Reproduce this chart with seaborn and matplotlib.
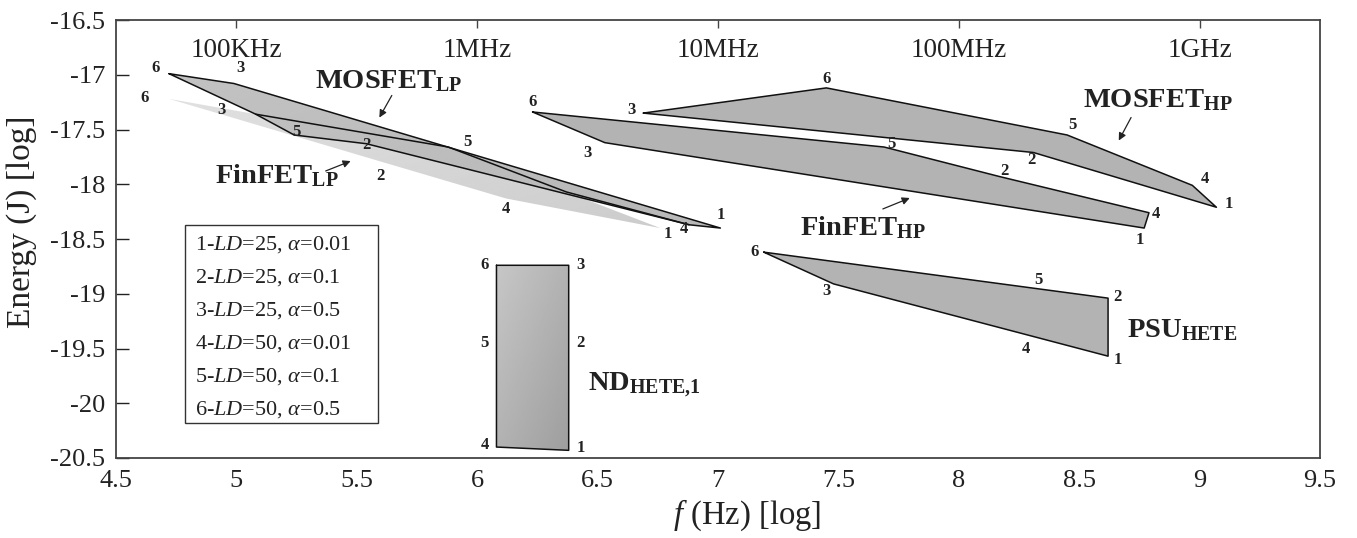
import numpy as np
import pandas as pd
import matplotlib
matplotlib.use("Agg")
import matplotlib.pyplot as plt
import seaborn as sns
from matplotlib.patches import Polygon, Rectangle

# polygon vertices: x = log10(f), y = log10(E)
mosfet_lp_x = [4.72, 4.99, 7.01, 6.88, 5.54, 5.24, 5.08]
mosfet_lp_y = [-16.99, -17.08, -18.40, -18.37, -17.63, -17.55, -17.36]
mosfet_lp_mid_x = [5.08, 5.88, 6.37, 6.88]
mosfet_lp_mid_y = [-17.36, -17.66, -18.07, -18.37]
finfet_lp_x = [4.72, 5.08, 5.24, 5.54, 6.37, 6.76, 6.12, 5.58]
finfet_lp_y = [-17.22, -17.36, -17.55, -17.63, -18.07, -18.40, -18.13, -17.78]
mosfet_hp_x = [6.69, 7.45, 8.45, 8.97, 9.07, 8.31]
mosfet_hp_y = [-17.35, -17.12, -17.55, -18.01, -18.21, -17.71]
finfet_hp_x = [6.23, 7.69, 8.17, 8.79, 8.77, 6.53]
finfet_hp_y = [-17.34, -17.66, -17.93, -18.26, -18.40, -17.62]
psu_x = [7.19, 8.62, 8.62, 7.48]
psu_y = [-18.62, -19.04, -19.57, -18.91]
nd_x = [6.08, 6.38, 6.38, 6.08]
nd_y = [-18.74, -18.74, -20.43, -20.40]

# vertex number labels
num_text = ["6", "3", "6", "3", "5", "2", "2", "5", "4", "1", "4", "1",
            "6", "3", "3", "6", "5", "5", "2", "2", "4", "1", "4", "1",
            "6", "3", "5", "2", "4", "1",
            "6", "3", "5", "2", "4", "1"]
num_x = [4.665, 5.015, 4.62, 4.94, 5.25, 5.54, 5.60, 5.96, 6.12, 7.01, 6.86, 6.79,
         6.23, 6.46, 6.64, 7.45, 7.72, 8.47, 8.30, 8.19, 9.02, 9.12, 8.82, 8.75,
         7.15, 7.45, 8.33, 8.66, 8.28, 8.66,
         6.03, 6.43, 6.03, 6.43, 6.03, 6.43]
num_y = [-16.94, -16.94, -17.215, -17.32, -17.52, -17.64, -17.925, -17.61, -18.23, -18.28, -18.41, -18.45,
         -17.25, -17.71, -17.32, -17.04, -17.63, -17.46, -17.78, -17.88, -17.95, -18.18, -18.27, -18.51,
         -18.62, -18.975, -18.87, -19.03, -19.50, -19.605,
         -18.74, -18.74, -19.45, -19.45, -20.38, -20.41]

legend_lines = [r"1-$LD$=25, $\alpha$=0.01", r"2-$LD$=25, $\alpha$=0.1",
                r"3-$LD$=25, $\alpha$=0.5", r"4-$LD$=50, $\alpha$=0.01",
                r"5-$LD$=50, $\alpha$=0.1", r"6-$LD$=50, $\alpha$=0.5"]

top_ticks = [5, 6, 7, 8, 9]
top_labels = ["100KHz", "1MHz", "10MHz", "100MHz", "1GHz"]

sns.set_theme(style="white")
plt.rcParams["font.family"] = ["Liberation Serif", "DejaVu Serif"]
plt.rcParams["mathtext.fontset"] = "custom"
plt.rcParams["mathtext.rm"] = "Liberation Serif"
plt.rcParams["mathtext.it"] = "Liberation Serif:italic"
plt.rcParams["mathtext.bf"] = "Liberation Serif:bold"


def gradient_fill(ax, xs, ys, g0, g1, zorder):
    poly = Polygon(np.column_stack([xs, ys]), closed=True, fc="none", ec="none")
    ax.add_patch(poly)
    gx, gy = np.meshgrid(np.linspace(0, 1, 200), np.linspace(0, 1, 200))
    t = (gx + (1 - gy)) / 2
    img = g0 + (g1 - g0) * t
    im = ax.imshow(img, cmap="gray", vmin=0, vmax=1, origin="lower", aspect="auto",
                   extent=[min(xs), max(xs), min(ys), max(ys)], zorder=zorder,
                   interpolation="bilinear")
    im.set_clip_path(poly)


fig = plt.figure(figsize=(13.57, 5.38), dpi=100)
ax = fig.add_axes([0.0855, 0.1487, 0.8872, 0.8141])

# fills
gradient_fill(ax, finfet_lp_x, finfet_lp_y, 0.88, 0.80, 1)
gradient_fill(ax, mosfet_lp_x, mosfet_lp_y, 0.76, 0.72, 2)
ax.fill(mosfet_hp_x, mosfet_hp_y, color="#b3b3b3", zorder=2, lw=0)
ax.fill(finfet_hp_x, finfet_hp_y, color="#b3b3b3", zorder=2, lw=0)
ax.fill(psu_x, psu_y, color="#b3b3b3", zorder=2, lw=0)
gradient_fill(ax, nd_x, nd_y, 0.78, 0.62, 2)

# outlines
shapes = {
    "mosfet_lp": (mosfet_lp_x, mosfet_lp_y, True),
    "mosfet_lp_mid": (mosfet_lp_mid_x, mosfet_lp_mid_y, False),
    "mosfet_hp": (mosfet_hp_x, mosfet_hp_y, True),
    "finfet_hp": (finfet_hp_x, finfet_hp_y, True),
    "psu": (psu_x, psu_y, True),
    "nd": (nd_x, nd_y, True),
}
rows = []
for name, (xs, ys, closed) in shapes.items():
    pts = list(zip(xs, ys))
    if closed:
        pts.append(pts[0])
    for i, (px, py) in enumerate(pts):
        rows.append({"shape": name, "order": i, "x": px, "y": py})
outline = pd.DataFrame(rows)
sns.lineplot(data=outline, x="x", y="y", units="shape", estimator=None, sort=False,
             color="#111111", lw=1.1, ax=ax, legend=False, zorder=3)

for t, x, y in zip(num_text, num_x, num_y):
    ax.text(x, y, t, fontsize=12, fontweight="bold", ha="center", va="center",
            color="#222222", zorder=5)

# region names
name_kw = dict(fontsize=20.5, ha="left", va="baseline", color="#222222", zorder=5)
ax.text(5.327, -17.121, r"$\mathbf{MOSFET}_{\mathbf{LP}}$", **name_kw)
ax.text(4.911, -17.989, r"$\mathbf{FinFET}_{\mathbf{LP}}$", **name_kw)
ax.text(8.517, -17.295, r"$\mathbf{MOSFET}_{\mathbf{HP}}$", **name_kw)
ax.text(7.342, -18.463, r"$\mathbf{FinFET}_{\mathbf{HP}}$", **name_kw)
ax.text(8.700, -19.395, r"$\mathbf{PSU}_{\mathbf{HETE}}$", **name_kw)
ax.text(6.461, -19.888, r"$\mathbf{ND}_{\mathbf{HETE{,}1}}$", **name_kw)

arrow = dict(arrowstyle="-|>", color="#222222", lw=0.9, mutation_scale=11)
ax.annotate("", xy=(5.588, -17.413), xytext=(5.651, -17.167), arrowprops=arrow, zorder=5)
ax.annotate("", xy=(5.485, -17.779), xytext=(5.360, -17.888), arrowprops=arrow, zorder=5)
ax.annotate("", xy=(8.659, -17.623), xytext=(8.721, -17.368), arrowprops=arrow, zorder=5)
ax.annotate("", xy=(7.807, -18.116), xytext=(7.674, -18.235), arrowprops=arrow, zorder=5)

# parameter box
ax.add_patch(Rectangle((4.787, -20.178), 0.802, 1.808, fc="white", ec="#333333",
                       lw=1.0, zorder=4))
for i, line in enumerate(legend_lines):
    ax.text(4.828, -18.555 - i * 0.3014, line, fontsize=16, ha="left", va="center",
            color="#222222", zorder=5)

ax.set_xlim(4.5, 9.5)
ax.set_ylim(-20.5, -16.5)
xt = np.arange(4.5, 9.51, 0.5)
yt = np.arange(-20.5, -16.49, 0.5)
ax.set_xticks(xt, labels=[f"{v:g}" for v in xt])
ax.set_yticks(yt, labels=[f"{v:g}" for v in yt])
ax.tick_params(axis="x", length=0, pad=9, labelsize=19, colors="#222222")
ax.tick_params(axis="y", direction="in", length=9, width=1, pad=8, labelsize=19,
               left=True, colors="#222222")
for s in ax.spines.values():
    s.set_color("#444444")
    s.set_linewidth(1.3)

sec = ax.secondary_xaxis("top")
sec.set_xticks(top_ticks, labels=["" for _ in top_ticks])
sec.tick_params(direction="in", length=6, width=1, colors="#444444")
sec.spines["top"].set_visible(False)
for x, lab in zip(top_ticks, top_labels):
    ax.text(x, 0.9315, lab, transform=ax.get_xaxis_transform(), fontsize=19.5,
            ha="center", va="center", color="#222222")

ax.set_xlabel(r"$f$ (Hz) [log]", fontsize=23.5, color="#222222")
ax.set_ylabel("Energy (J) [log]", fontsize=24, color="#222222")
ax.xaxis.set_label_coords(0.524, -0.091)
ax.yaxis.set_label_coords(-0.066, 0.539)

fig.savefig("out.png", dpi=100)
